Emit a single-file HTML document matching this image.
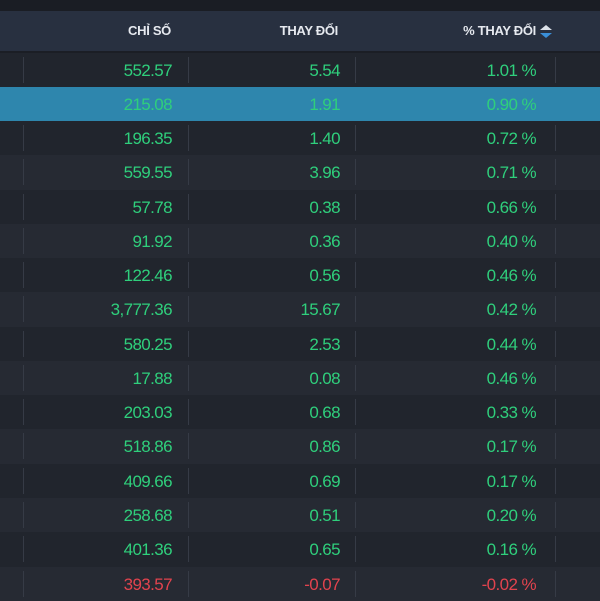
<!DOCTYPE html>
<html><head><meta charset="utf-8"><style>
body{margin:0;width:600px;height:600px;overflow:hidden;background:#1b1e25;font-family:"Liberation Sans",sans-serif;}
#top{position:absolute;left:0;top:0;width:600px;height:11px;background:#1a1d24}
#hdr{position:absolute;left:0;top:11px;width:600px;height:40px;background:#283040;color:#e6e9ef;font-size:13px;font-weight:bold;letter-spacing:-0.3px}
#hdr div{position:absolute;top:12px;text-align:right}
.row{position:absolute;left:0;width:600px;height:34.27px;font-size:17px;letter-spacing:-0.6px}
.row .c{position:absolute;top:8px;text-align:right}
.sep{position:absolute;top:4px;width:1px;height:26px;background:#363b46}
</style></head><body>
<div id="top"></div>
<div id="hdr">
<div style="right:429px">CHỈ SỐ</div>
<div style="right:262px">THAY ĐỔI</div>
<div style="right:64px">% THAY ĐỔI</div>
<svg style="position:absolute;left:540px;top:14px" width="12" height="13"><polygon points="0,5 6,0 12,5" fill="#dde2ea"/><polygon points="0,8 6,13 12,8" fill="#3a8fd8"/></svg>
</div>
<div id="tbl"></div>
<script>
const idx=["552.57","215.08","196.35","559.55","57.78","91.92","122.46","3,777.36","580.25","17.88","203.03","518.86","409.66","258.68","401.36","393.57"];
const chg=["5.54","1.91","1.40","3.96","0.38","0.36","0.56","15.67","2.53","0.08","0.68","0.86","0.69","0.51","0.65","-0.07"];
const pct=["1.01 %","0.90 %","0.72 %","0.71 %","0.66 %","0.40 %","0.46 %","0.42 %","0.44 %","0.46 %","0.33 %","0.17 %","0.17 %","0.20 %","0.16 %","-0.02 %"];
const tbl=document.getElementById('tbl');
for(let i=0;i<idx.length;i++){
 const r=document.createElement('div');
 
 
 r.className='row';
 r.style.top=(52.5+i*34.27)+'px';
 r.style.background=i===1?'#2e86ad':(i%2===0?'#21252d':'#262a33');
 const col=chg[i].startsWith('-')?'#e2434e':'#2fcf7c';
 [[idx[i],428],[chg[i],260],[pct[i],64]].forEach(([t,rt],k)=>{
  const c=document.createElement('div');
  
  
  c.className='c';c.style.right=rt+'px';c.style.color=col;c.textContent=t;r.appendChild(c);
 });
 if(i!==1)[23,188,355,555].forEach(x=>{const s=document.createElement('div');
  
  
  s.className='sep';s.style.left=x+'px';r.appendChild(s);});
 tbl.appendChild(r);
}
</script>
</body></html>
